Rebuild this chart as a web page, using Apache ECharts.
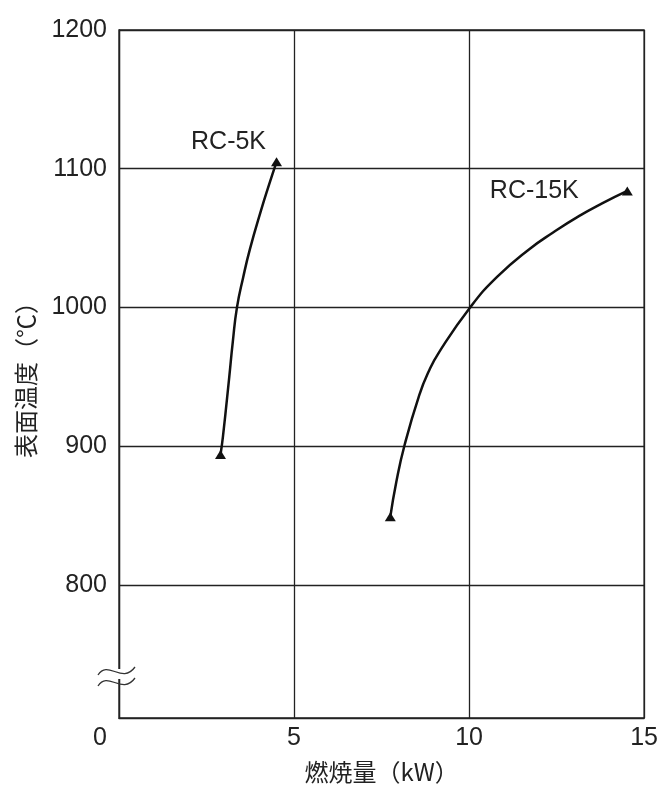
<!DOCTYPE html>
<html>
<head>
<meta charset="utf-8">
<script src="https://cdn.jsdelivr.net/npm/echarts@6/dist/echarts.min.js"></script>
<style>
html,body{margin:0;padding:0;background:#fff;}
#chart{width:661px;height:791px;}
</style>
</head>
<body>
<div id="chart"></div>
<script>
// ---- data ----
var xTicks = [0, 5, 10, 15];
var yTicks = [800, 900, 1000, 1100, 1200];
var rc5kX = [2.90, 2.97, 3.15, 3.25, 3.37, 3.55, 3.74, 4.07, 4.28, 4.50];
var rc5kY = [894, 907, 950, 975, 1000, 1022, 1042, 1071, 1088, 1105];
var rc15kX = [7.75, 7.92, 8.16, 8.58, 8.85, 9.15, 10.03, 10.80, 11.72, 12.40, 13.15, 13.80, 14.52];
var rc15kY = [849, 874, 901, 937, 954, 968, 1000, 1022, 1042, 1054, 1066, 1075, 1084];
var seriesNames = ['RC-5K', 'RC-15K'];
var xName = '燃焼量（kW）';
var yName = '表面温度（℃）';

var FONT = '"Liberation Sans", Arial, sans-serif';
var CJK = '"Noto Sans CJK JP", sans-serif';
var INK = '#222';

function buildData(xs, ys) {
  var out = [];
  for (var i = 0; i < xs.length; i++) {
    var item = { value: [xs[i], ys[i]] };
    if (i === 0 || i === xs.length - 1) {
      item.symbol = 'triangle';
      item.symbolSize = [11, 9];
    } else {
      item.symbol = 'none';
    }
    out.push(item);
  }
  return out;
}

var d5 = buildData(rc5kX, rc5kY);
d5[d5.length - 1].label = {
  show: true, position: 'inside', offset: [-48, -20],
  formatter: seriesNames[0], color: INK, fontSize: 25, fontFamily: FONT
};
var d15 = buildData(rc15kX, rc15kY);
d15[d15.length - 1].label = {
  show: true, position: 'inside', offset: [-93, 0],
  formatter: seriesNames[1], color: INK, fontSize: 25, fontFamily: FONT
};

var chart = echarts.init(document.getElementById('chart'), null, {renderer: 'canvas'});
var option = {
  backgroundColor: '#fff',
  animation: false,
  grid: { left: 119, right: 16, top: 30, bottom: 73, show: true, borderColor: INK, borderWidth: 1.3 },
  xAxis: {
    type: 'value', min: 0, max: 15, interval: 5,
    name: xName, nameLocation: 'middle', nameGap: 42,
    nameTextStyle: { fontSize: 24, fontFamily: CJK, color: INK },
    axisLine: { lineStyle: { color: INK, width: 1.3 } },
    axisTick: { show: false },
    axisLabel: {
      fontSize: 25, fontFamily: FONT, color: INK, margin: 8,
      formatter: function (v) { return v === 0 ? '{o|0}' : String(v); },
      rich: { o: { fontSize: 25, fontFamily: FONT, color: INK, padding: [0, 38, 0, 0] } }
    },
    splitLine: { show: true, lineStyle: { color: INK, width: 1.3 } }
  },
  yAxis: {
    type: 'value', min: 704, max: 1200,
    name: yName, nameLocation: 'middle', nameRotate: 90, nameGap: 81,
    nameTextStyle: { fontSize: 24, fontFamily: CJK, color: INK },
    axisLine: { show: true, lineStyle: { color: INK, width: 1.3 } },
    axisTick: { show: false, customValues: yTicks },
    axisLabel: {
      fontSize: 25, fontFamily: FONT, color: INK, margin: 12, customValues: yTicks,
      formatter: function (v) { return String(v); }
    },
    splitLine: { show: true, lineStyle: { color: INK, width: 1.3 } }
  },
  series: [
    {
      name: seriesNames[0], type: 'line', smooth: 0.5, data: d5,
      showSymbol: true, showAllSymbol: true,
      lineStyle: { color: '#111', width: 2.5 },
      itemStyle: { color: '#111' }
    },
    {
      name: seriesNames[1], type: 'line', smooth: 0.5, data: d15,
      showSymbol: true, showAllSymbol: true,
      lineStyle: { color: '#111', width: 2.5 },
      itemStyle: { color: '#111' }
    }
  ],
  graphic: [
    { type: 'rect', z: 100, shape: { x: 113, y: 669, width: 12, height: 10 }, style: { fill: '#fff' } },
    { type: 'bezierCurve', z: 101, shape: { x1: 98, y1: 675, cpx1: 108, cpy1: 659, cpx2: 122, cpy2: 685, x2: 135, y2: 667 }, style: { fill: 'none', stroke: '#333', lineWidth: 1.3 } },
    { type: 'bezierCurve', z: 101, shape: { x1: 98, y1: 686, cpx1: 108, cpy1: 670, cpx2: 122, cpy2: 696, x2: 135, y2: 678 }, style: { fill: 'none', stroke: '#333', lineWidth: 1.3 } }
  ]
};
chart.setOption(option);
</script>
</body>
</html>
